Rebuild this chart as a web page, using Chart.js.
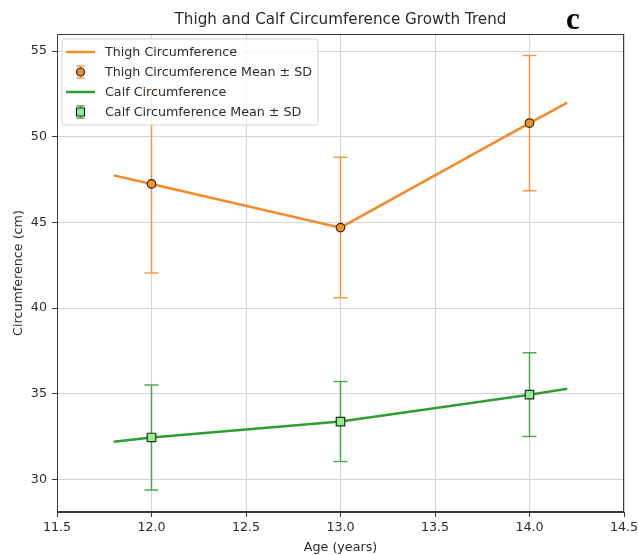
<!DOCTYPE html>
<html>
<head>
<meta charset="utf-8">
<title>Thigh and Calf Circumference Growth Trend</title>
<script src="https://cdn.jsdelivr.net/npm/chart.js@4.4.1/dist/chart.umd.min.js"></script>
<style>
    html, body { margin: 0; padding: 0; background: #fff; }
    canvas { display: block; }
</style>
</head>
<body>
<canvas id="growthChart" width="638" height="555"></canvas>
<script>
// Mesures moyennes par âge
const ages = [12, 13, 14];
const thighMean = [47.25, 44.7, 50.8];
const thighSD = [5.2, 4.1, 3.95];
const calfMean = [32.45, 33.38, 34.95];
const calfSD = [3.07, 2.33, 2.45];

// Courbes de tendance (prolongées un peu avant 12 et après 14 ans)
const trendAges = [11.8, 12, 13, 14, 14.2];
const thighTrend = [47.75, 47.25, 44.7, 50.8, 52.0];
const calfTrend = [32.2, 32.45, 33.38, 34.95, 35.3];

const xTicks = [11.5, 12.0, 12.5, 13.0, 13.5, 14.0, 14.5];
const yTicks = [30, 35, 40, 45, 50, 55];

const ORANGE = '#f5892a';
const ORANGE_BAR = 'rgba(245, 137, 42, 0.85)';
const GREEN = '#2f9e32';
const GREEN_BAR = 'rgba(47, 158, 50, 0.85)';
const FONT = "'DejaVu Sans', sans-serif";
const TEXT = '#2b2b2b';
const BASE = 12.7;

const toPoints = (xs, ys) => xs.map((v, i) => ({ x: v, y: ys[i] }));

const errorSets = [
    { mean: thighMean, sd: thighSD, color: ORANGE_BAR },
    { mean: calfMean, sd: calfSD, color: GREEN_BAR }
];

function drawErrorBar(ctx, px, yLow, yHigh, cap, color) {
    ctx.strokeStyle = color;
    ctx.lineWidth = 1.5;
    ctx.beginPath();
    ctx.moveTo(px, yLow);
    ctx.lineTo(px, yHigh);
    ctx.moveTo(px - cap, yLow);
    ctx.lineTo(px + cap, yLow);
    ctx.moveTo(px - cap, yHigh);
    ctx.lineTo(px + cap, yHigh);
    ctx.stroke();
}

// Barres d'erreur (moyenne ± écart-type), sous les courbes
const errorBarPlugin = {
    id: 'errorBars',
    beforeDatasetsDraw(chart) {
        const { ctx, scales: { x, y } } = chart;
        ctx.save();
        errorSets.forEach(set => {
            ages.forEach((age, i) => {
                const px = x.getPixelForValue(age);
                const lo = y.getPixelForValue(set.mean[i] - set.sd[i]);
                const hi = y.getPixelForValue(set.mean[i] + set.sd[i]);
                drawErrorBar(ctx, px, lo, hi, 7, set.color);
            });
        });
        ctx.restore();
    }
};

// Cadre, titre, étiquette du panneau et légende
const decorPlugin = {
    id: 'decor',
    afterDraw(chart) {
        const { ctx, chartArea: a } = chart;
        ctx.save();

        ctx.strokeStyle = '#3a3a3a';
        ctx.lineWidth = 1;
        ctx.strokeRect(a.left + 0.5, a.top + 0.5, a.right - a.left - 1, a.bottom - a.top - 1);

        ctx.fillStyle = TEXT;
        ctx.font = '15.2px ' + FONT;
        ctx.textAlign = 'center';
        ctx.textBaseline = 'middle';
        ctx.fillText('Thigh and Calf Circumference Growth Trend', (a.left + a.right) / 2, 20);

        ctx.fillStyle = '#000';
        ctx.font = "bold 31px 'Liberation Serif', serif";
        ctx.textBaseline = 'alphabetic';
        ctx.fillText('c', 573, 29);

        // légende
        const bx = 62, by = 39, bw = 256, bh = 86;
        ctx.fillStyle = 'rgba(255, 255, 255, 0.82)';
        ctx.strokeStyle = '#d2d2d2';
        ctx.beginPath();
        ctx.roundRect(bx, by, bw, bh, 3);
        ctx.fill();
        ctx.stroke();

        const items = [
            { label: 'Thigh Circumference', kind: 'line', color: ORANGE },
            { label: 'Thigh Circumference Mean \u00b1 SD', kind: 'circle', color: ORANGE_BAR, fill: ORANGE },
            { label: 'Calf Circumference', kind: 'line', color: GREEN },
            { label: 'Calf Circumference Mean \u00b1 SD', kind: 'square', color: GREEN_BAR, fill: '#90ee90' }
        ];
        ctx.font = BASE + 'px ' + FONT;
        ctx.textAlign = 'left';
        ctx.textBaseline = 'middle';
        items.forEach((it, i) => {
            const cy = 52 + i * 20;
            if (it.kind === 'line') {
                ctx.strokeStyle = it.color;
                ctx.lineWidth = 2.5;
                ctx.beginPath();
                ctx.moveTo(66, cy);
                ctx.lineTo(95, cy);
                ctx.stroke();
            } else {
                drawErrorBar(ctx, 80.5, cy + 6, cy - 6, 4, it.color);
                ctx.fillStyle = it.fill;
                ctx.strokeStyle = '#222';
                ctx.lineWidth = 1.2;
                ctx.beginPath();
                if (it.kind === 'circle') {
                    ctx.arc(80.5, cy, 4, 0, Math.PI * 2);
                } else {
                    ctx.rect(76.5, cy - 4, 8, 8);
                }
                ctx.fill();
                ctx.stroke();
            }
            ctx.fillStyle = TEXT;
            ctx.fillText(it.label, 105, cy + 0.5);
        });

        ctx.restore();
    }
};

new Chart(document.getElementById('growthChart'), {
    type: 'line',
    data: {
        datasets: [
            {
                label: 'Thigh Circumference',
                data: toPoints(trendAges, thighTrend),
                borderColor: ORANGE,
                borderWidth: 2.5,
                pointRadius: 0,
                tension: 0,
                order: 2
            },
            {
                label: 'Calf Circumference',
                data: toPoints(trendAges, calfTrend),
                borderColor: GREEN,
                borderWidth: 2.5,
                pointRadius: 0,
                tension: 0,
                order: 2
            },
            {
                label: 'Thigh Circumference Mean \u00b1 SD',
                data: toPoints(ages, thighMean),
                showLine: false,
                pointStyle: 'circle',
                pointRadius: 4.3,
                pointBackgroundColor: '#f7931e',
                pointBorderColor: '#2a2a2a',
                pointBorderWidth: 1.2,
                order: 1
            },
            {
                label: 'Calf Circumference Mean \u00b1 SD',
                data: toPoints(ages, calfMean),
                showLine: false,
                pointStyle: 'rect',
                pointRadius: 6,
                pointBackgroundColor: '#90ee90',
                pointBorderColor: '#2a2a2a',
                pointBorderWidth: 1.2,
                order: 1
            }
        ]
    },
    options: {
        responsive: false,
        devicePixelRatio: 1,
        animation: false,
        layout: {
            padding: { top: 34, right: 14, bottom: 0, left: 0 }
        },
        plugins: {
            legend: { display: false },
            title: { display: false },
            tooltip: { enabled: false }
        },
        scales: {
            x: {
                type: 'linear',
                min: 11.5,
                max: 14.5,
                afterBuildTicks: scale => { scale.ticks = xTicks.map(v => ({ value: v })); },
                afterFit: scale => {
                    scale.height = 43;
                    scale.paddingLeft = 0;
                    scale.paddingRight = 0;
                },
                ticks: {
                    color: TEXT,
                    font: { family: FONT, size: BASE },
                    padding: 3,
                    maxRotation: 0,
                    callback: v => Number(v).toFixed(1)
                },
                grid: { color: '#d4d4d4', lineWidth: 1, tickLength: 5, tickColor: '#3a3a3a' },
                border: { color: '#3a3a3a', width: 1 },
                title: {
                    display: true,
                    text: 'Age (years)',
                    color: TEXT,
                    font: { family: FONT, size: BASE },
                    padding: 0
                }
            },
            y: {
                min: 28.1,
                max: 56,
                afterBuildTicks: scale => { scale.ticks = yTicks.map(v => ({ value: v })); },
                afterFit: scale => { scale.width = 57; },
                ticks: {
                    color: TEXT,
                    font: { family: FONT, size: BASE },
                    padding: 5
                },
                grid: { color: '#d4d4d4', lineWidth: 1, tickLength: 5, tickColor: '#3a3a3a' },
                border: { color: '#3a3a3a', width: 1 },
                title: {
                    display: true,
                    text: 'Circumference (cm)',
                    color: TEXT,
                    font: { family: FONT, size: BASE },
                    padding: { top: 11, bottom: 0 }
                }
            }
        }
    },
    plugins: [errorBarPlugin, decorPlugin]
});
</script>
</body>
</html>
